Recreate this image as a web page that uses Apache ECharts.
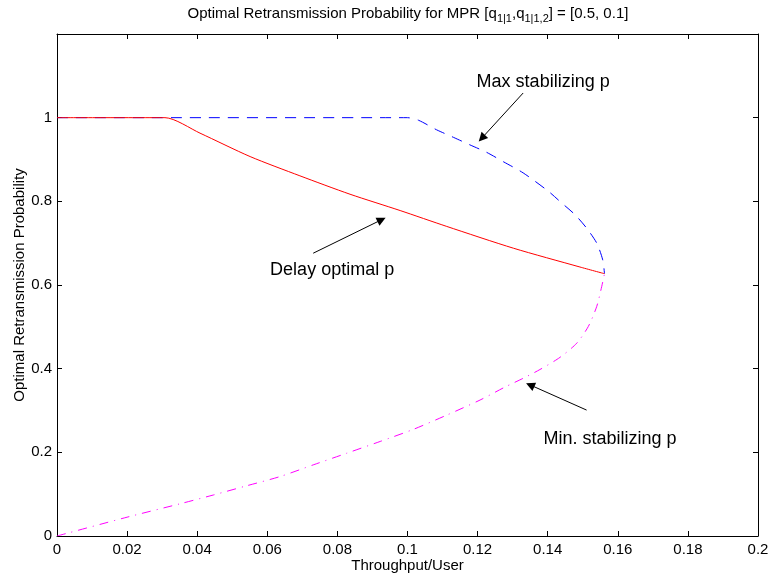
<!DOCTYPE html>
<html><head><meta charset="utf-8">
<script src="https://cdn.jsdelivr.net/npm/echarts@6/dist/echarts.min.js"></script>
<style>html,body{margin:0;padding:0;background:#fff}#c{width:769px;height:575px}</style>
</head><body><div id="c"></div>
<script>
const xTicks = [0, 0.02, 0.04, 0.06, 0.08, 0.1, 0.12, 0.14, 0.16, 0.18, 0.2];
const yTicks = [0, 0.2, 0.4, 0.6, 0.8, 1];

const delayOptimal = [
  [0, 1], [0.0308, 1], [0.0408, 0.963], [0.0551, 0.907], [0.0693, 0.861],
  [0.0836, 0.817], [0.0979, 0.778], [0.1112, 0.740], [0.1302, 0.688],
  [0.1492, 0.643], [0.1562, 0.627]
];
const maxStabilizing = [
  [0, 1], [0.1, 1], [0.1031, 0.994], [0.1083, 0.971], [0.1131, 0.953],
  [0.1178, 0.935], [0.1226, 0.917], [0.1275, 0.894], [0.133, 0.868],
  [0.1402, 0.824], [0.144, 0.796], [0.1478, 0.768], [0.1511, 0.736],
  [0.154, 0.700], [0.1557, 0.660], [0.1562, 0.627]
];
const minStabilizing = [
  [0, 0], [0.02, 0.045], [0.0351, 0.077], [0.0446, 0.098], [0.0541, 0.120],
  [0.0636, 0.142], [0.0731, 0.170], [0.0827, 0.198], [0.0922, 0.226],
  [0.1017, 0.255], [0.1112, 0.289], [0.1207, 0.325], [0.1278, 0.356],
  [0.133, 0.377], [0.1378, 0.398], [0.1435, 0.427], [0.1483, 0.461],
  [0.1516, 0.501], [0.154, 0.549], [0.1554, 0.596], [0.1562, 0.627]
];

const annotationText = ['Max stabilizing p', 'Delay optimal p', 'Min. stabilizing p'];
const annotationAt = [[0.1387, 1.084], [0.0785, 0.636], [0.1578, 0.232]];
const arrowFrom = [[0.1330, 1.059], [0.0731, 0.676], [0.1511, 0.301]];
const arrowTo = [[0.1212, 0.951], [0.0926, 0.756], [0.1350, 0.361]];

const FONT = 'Liberation Sans, Arial, Helvetica, sans-serif';
const chart = echarts.init(document.getElementById('c'), null, {renderer: 'canvas'});

function fmt(v) { return String(parseFloat(v.toFixed(4))); }

const baseAxis = {
  type: 'value',
  axisLine: {show: true, onZero: false, lineStyle: {color: '#000', width: 1}},
  axisTick: {show: true, inside: true, length: 5, lineStyle: {color: '#000', width: 1}},
  splitLine: {show: false},
  axisLabel: {show: false},
  nameMoveOverlap: false,
  nameTextStyle: {color: '#000', fontFamily: FONT, fontSize: 15}
};

const option = {
  animation: false,
  backgroundColor: '#fff',
  grid: {left: 57, right: 11, top: 34, bottom: 39, containLabel: false, outerBoundsMode: 'none'},
  xAxis: [
    Object.assign({}, baseAxis, {
      position: 'bottom', min: 0, max: 0.2, interval: 0.02,
      name: 'Throughput/User', nameLocation: 'middle', nameGap: 22,
      axisLabel: {show: true, color: '#000', fontFamily: FONT, fontSize: 15, margin: 6,
        formatter: v => xTicks.some(t => Math.abs(t - v) < 1e-9) ? fmt(v) : ''}
    }),
    Object.assign({}, baseAxis, {position: 'top', min: 0, max: 0.2, interval: 0.02})
  ],
  yAxis: [
    Object.assign({}, baseAxis, {
      position: 'left', min: 0, max: 1.2, interval: 0.2,
      name: 'Optimal Retransmission Probability', nameLocation: 'middle', nameGap: 30,
      axisLabel: {show: true, color: '#000', fontFamily: FONT, fontSize: 15, margin: 5,
        formatter: v => yTicks.some(t => Math.abs(t - v) < 1e-9) ? fmt(v) : ''}
    }),
    Object.assign({}, baseAxis, {position: 'right', min: 0, max: 1.2, interval: 0.2})
  ],
  graphic: [{
    type: 'text', x: 408, y: 4,
    style: {
      text: 'Optimal Retransmission Probability for MPR [q{s|1|1},q{s|1|1,2}] = [0.5, 0.1]',
      align: 'center', verticalAlign: 'top',
      fontFamily: FONT, fontSize: 15, fill: '#000',
      rich: {s: {fontFamily: FONT, fontSize: 11, fill: '#000', padding: [9, 0, 0, 0]}}
    }
  }],
  series: [
    {
      type: 'line', name: 'Delay optimal p', data: delayOptimal,
      showSymbol: false, symbol: 'none', smooth: 0.25, z: 3,
      lineStyle: {color: '#ff0000', width: 1, type: 'solid'},
      markLine: {
        silent: true, symbol: ['none', 'triangle'], symbolSize: 9,
        label: {show: false},
        lineStyle: {color: '#000', width: 1, type: 'solid'},
        data: arrowFrom.map((f, i) => [{coord: f}, {coord: arrowTo[i]}])
      },
      markPoint: {
        silent: true, symbol: 'circle', symbolSize: 0,
        label: {show: true, position: 'inside', color: '#000', fontFamily: FONT, fontSize: 18,
          formatter: p => p.name},
        data: annotationText.map((t, i) => ({name: t, coord: annotationAt[i]}))
      }
    },
    {
      type: 'line', name: 'Max stabilizing p', data: maxStabilizing,
      showSymbol: false, symbol: 'none', smooth: 0.25, z: 2,
      lineStyle: {color: '#0000ff', width: 1, type: [11, 8]}
    },
    {
      type: 'line', name: 'Min. stabilizing p', data: minStabilizing,
      showSymbol: false, symbol: 'none', smooth: 0.25, z: 2,
      lineStyle: {color: '#ff00ff', width: 1, type: [9, 6, 1, 6]}
    }
  ]
};
chart.setOption(option);
</script>
</body></html>
